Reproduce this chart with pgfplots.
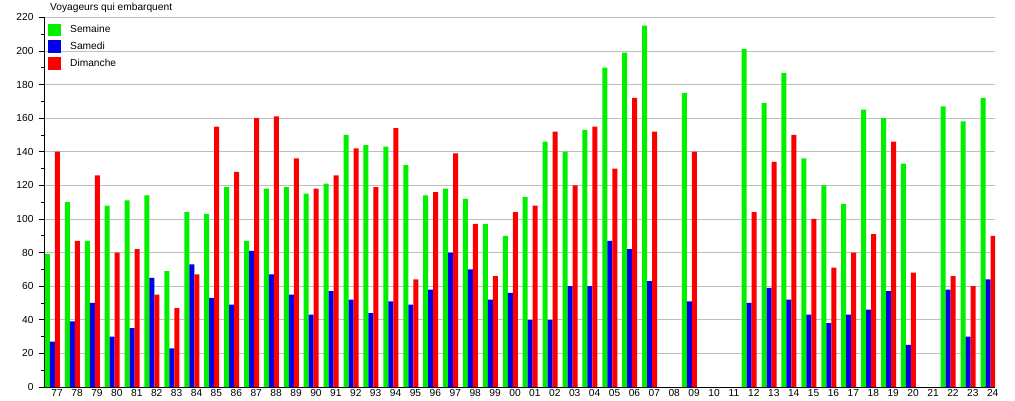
\documentclass[border=0pt]{standalone}
\usepackage{fontspec}
\setmainfont{Liberation Sans}
\usepackage{pgfplots}
\usepackage{pgfplotstable}
\pgfplotsset{compat=1.18}
\definecolor{cgreen}{RGB}{0,240,0}
\definecolor{cblue}{RGB}{0,0,235}
\definecolor{cred}{RGB}{250,0,0}
\definecolor{cgrid}{RGB}{190,190,190}
\pgfplotstableread{
x S Sa D
0 79 27 140
1 110 39 87
2 87 50 126
3 108 30 80
4 111 35 82
5 114 65 55
6 69 23 47
7 104 73 67
8 103 53 155
9 119 49 128
10 87 81 160
11 118 67 161
12 119 55 136
13 115 43 118
14 121 57 126
15 150 52 142
16 144 44 119
17 143 51 154
18 132 49 64
19 114 58 116
20 118 80 139
21 112 70 97
22 97 52 66
23 90 56 104
24 113 40 108
25 146 40 152
26 140 60 120
27 153 60 155
28 190 87 130
29 199 82 172
30 215 63 152
32 175 51 140
35 201 50 104
36 169 59 134
37 187 52 150
38 136 43 100
39 120 38 71
40 109 43 80
41 165 46 91
42 160 57 146
43 133 25 68
45 167 58 66
46 158 30 60
47 172 64 90
}\data
\begin{document}
\begin{tikzpicture}[font=\fontsize{10.2}{12.2}\selectfont]
\useasboundingbox (0,0) rectangle (1015pt,400pt);
\begin{axis}[
  at={(44.5pt,13pt)}, anchor=south west,
  scale only axis, width=950.5pt, height=369.7pt,
  ybar=0pt, bar width=5pt,
  xmin=-0.40, xmax=47.35, ymin=0, ymax=220,
  axis x line*=bottom, axis y line*=left,
  axis line style={black, line width=1pt},
  xtick={0,...,47},
  xticklabels={77,78,79,80,81,82,83,84,85,86,87,88,89,90,91,92,93,94,95,96,97,98,99,00,01,02,03,04,05,06,07,08,09,10,11,12,13,14,15,16,17,18,19,20,21,22,23,24},
  x tick label style={xshift=4.7pt, yshift=1pt},
  xtick style={draw=none},
  xtick align=inside,
  ytick={0,20,...,220},
  minor y tick num=1,
  ytick align=outside,
  y tick label style={xshift=-2.5pt},
  major tick length=5pt, minor tick length=3pt,
  y tick style={black, line width=0.8pt},
  ymajorgrids, major grid style={cgrid, line width=0.8pt},
  /pgf/number format/assume math mode=true,
  title={Voyageurs qui embarquent},
  title style={at={(0,1)}, anchor=base west, xshift=5.5pt, yshift=1pt, inner sep=0pt},
  legend image code/.code={\fill[#1] (0pt,-6.3pt) rectangle (12.7pt,6.3pt);},
  legend cell align=left,
  legend style={draw=none, fill=none, at={(0,1)}, anchor=north west,
    xshift=3.8pt, yshift=-6pt, inner sep=0pt, column sep=9pt, row sep=4.3pt,
    nodes={inner sep=0pt, text height=7.5pt, text depth=2pt}},
]
\addplot[fill=cgreen, draw=none] table[x=x, y=S] {\data};
\addplot[fill=cblue, draw=none] table[x=x, y=Sa] {\data};
\addplot[fill=cred, draw=none] table[x=x, y=D] {\data};
\legend{Semaine, Samedi, Dimanche}
\end{axis}
\end{tikzpicture}
\end{document}
